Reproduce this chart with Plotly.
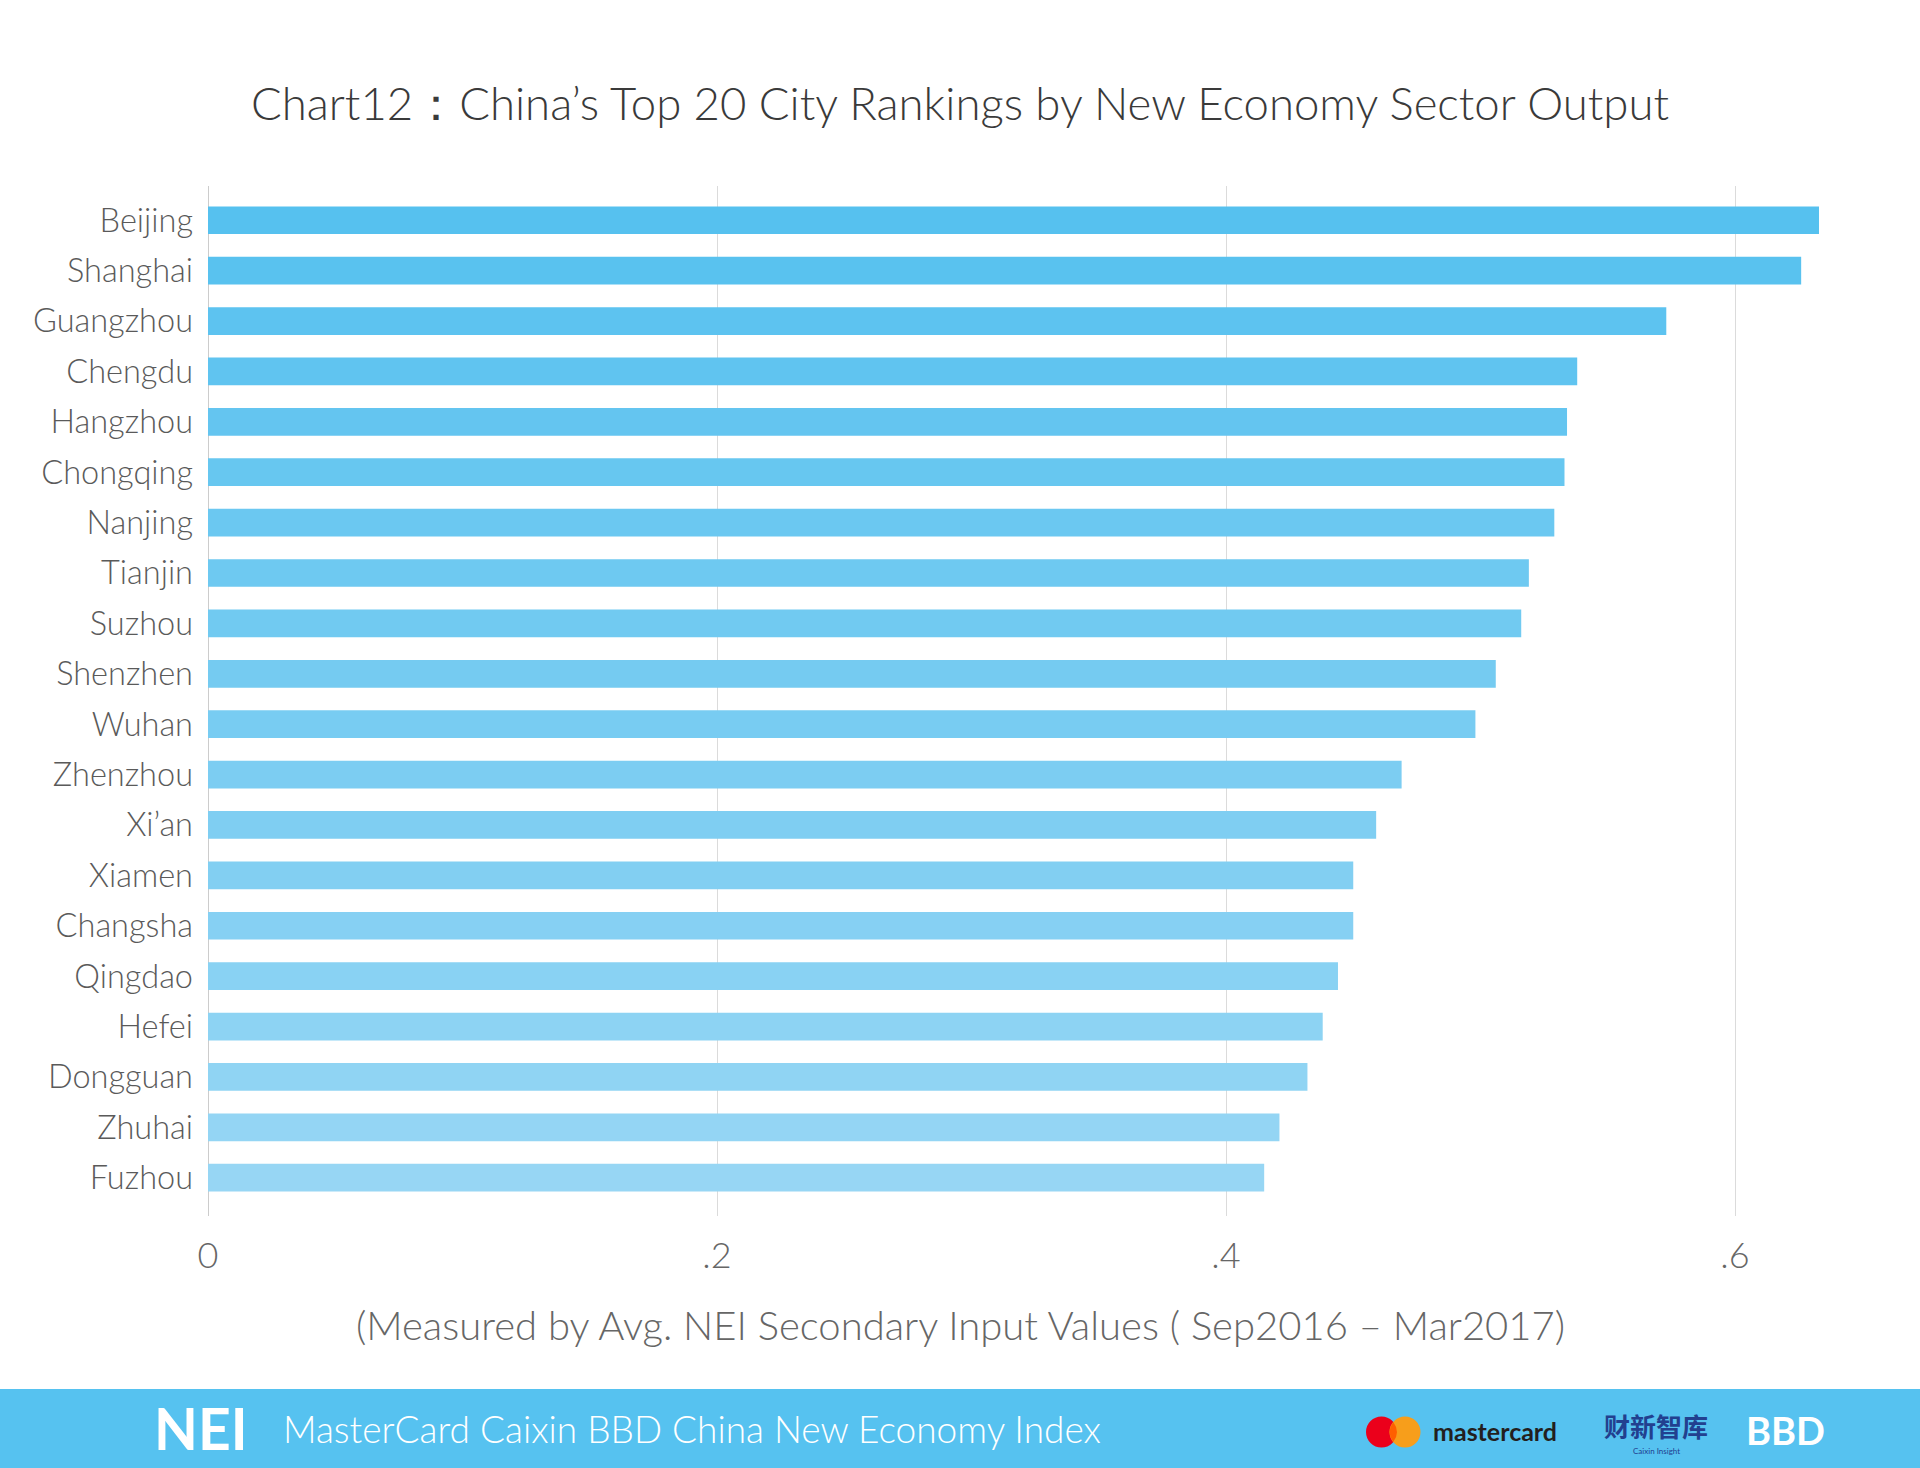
import plotly.graph_objects as go
import numpy as np

# ---- data ----
cities = ["Beijing", "Shanghai", "Guangzhou", "Chengdu", "Hangzhou", "Chongqing",
          "Nanjing", "Tianjin", "Suzhou", "Shenzhen", "Wuhan", "Zhenzhou",
          "Xi’an", "Xiamen", "Changsha", "Qingdao", "Hefei", "Dongguan",
          "Zhuhai", "Fuzhou"]
values = [0.633, 0.626, 0.573, 0.538, 0.534, 0.533, 0.529, 0.519, 0.516, 0.506,
          0.498, 0.469, 0.459, 0.450, 0.450, 0.444, 0.438, 0.432, 0.421, 0.415]
tick_vals = [0, 0.2, 0.4, 0.6]
tick_text = ["0", ".2", ".4", ".6"]

title_text = "Chart12：China’s Top 20 City Rankings by New Economy Sector Output"
axis_title = "(Measured by Avg. NEI Secondary Input Values ( Sep2016 – Mar2017)"
footer_text = "MasterCard Caixin BBD China New Economy Index"

# ---- geometry (pixels) ----
W, H = 1920, 1468
L, R, T, B = 208, 60, 186, 252
PW, PH = W - L - R, H - T - B
XMAX = PW / 2545.0


def xp(px):
    return (px - L) / PW


def yp(py):
    return (H - B - py) / PH


CJK = "Noto Sans CJK SC"

# bar colour gradient (top darker -> bottom lighter)
c0 = np.array([86, 193, 239])
c1 = np.array([151, 214, 244])
n = len(cities)
colors = ["rgb(%d,%d,%d)" % tuple(np.round(c0 + (c1 - c0) * i / (n - 1)).astype(int))
          for i in range(n)]

FONT = "Lato"

fig = go.Figure()
fig.add_trace(go.Bar(
    x=values, y=cities, orientation="h",
    marker=dict(color=colors, line=dict(width=0)),
    showlegend=False, hoverinfo="x+y",
))

fig.update_layout(
    width=W, height=H,
    margin=dict(l=L, r=R, t=T, b=B, pad=0),
    paper_bgcolor="white", plot_bgcolor="white",
    bargap=0.45,
    title=dict(text=title_text, x=0.5, xanchor="center", y=1 - 104 / H,
               yanchor="middle",
               font=dict(family=FONT, size=45.5, color="#3a3a3a", weight=300)),
    xaxis=dict(range=[0, XMAX], tickvals=tick_vals, ticktext=tick_text,
               showgrid=True, gridcolor="rgba(170,170,170,0.42)", gridwidth=1,
               zeroline=True, zerolinecolor="rgba(170,170,170,0.6)", zerolinewidth=1,
               showline=False, ticks="", ticklabelstandoff=15,
               tickfont=dict(family=FONT, size=36, color="#666666", weight=300),
               layer="above traces", fixedrange=True),
    yaxis=dict(autorange=False, range=[n - 1 + 0.76, -0.68], type="category",
               showgrid=False, zeroline=False, showline=False, ticks="",
               ticklabelstandoff=14,
               tickfont=dict(family=FONT, size=32.5, color="#5a5a5a", weight=300),
               fixedrange=True),
)

# axis title
fig.add_annotation(text=axis_title, xref="paper", yref="paper",
                   x=xp(960), y=yp(1325), xanchor="center", yanchor="middle",
                   showarrow=False,
                   font=dict(family=FONT, size=40, color="#666666", weight=300))

# ---- footer band ----
fig.add_shape(type="rect", xref="paper", yref="paper",
              x0=xp(-2), x1=xp(W + 2), y0=yp(1389), y1=yp(H + 2),
              fillcolor="#56C2F0", line=dict(width=0), layer="above")

fig.add_annotation(text="<b>NEI</b>", xref="paper", yref="paper",
                   x=xp(152), y=yp(1428), xanchor="left", yanchor="middle",
                   showarrow=False,
                   font=dict(family=FONT, size=57, color="white", weight=900))
fig.add_annotation(text=footer_text, xref="paper", yref="paper",
                   x=xp(281), y=yp(1428), xanchor="left", yanchor="middle",
                   showarrow=False,
                   font=dict(family=FONT, size=37, color="white", weight=300))

# mastercard circles
r = 15.5
cxr, cxo, cy = 1381.5, 1405.0, 1432.0
fig.add_shape(type="circle", xref="paper", yref="paper",
              x0=xp(cxr - r), x1=xp(cxr + r), y0=yp(cy + r), y1=yp(cy - r),
              fillcolor="#EB001B", line=dict(width=0), layer="above")
fig.add_shape(type="circle", xref="paper", yref="paper",
              x0=xp(cxo - r), x1=xp(cxo + r), y0=yp(cy + r), y1=yp(cy - r),
              fillcolor="#F79E1B", line=dict(width=0), layer="above")
# overlap lens
mx = (cxr + cxo) / 2
hh = (r ** 2 - ((cxo - cxr) / 2) ** 2) ** 0.5
bulge_r = (cxr + r) - mx
bulge_o = mx - (cxo - r)
lens = "M %f,%f Q %f,%f %f,%f Q %f,%f %f,%f Z" % (
    xp(mx), yp(cy - hh),
    xp(mx + 2 * bulge_r), yp(cy), xp(mx), yp(cy + hh),
    xp(mx - 2 * bulge_o), yp(cy), xp(mx), yp(cy - hh))
fig.add_shape(type="path", xref="paper", yref="paper", path=lens,
              fillcolor="#FF5F00", line=dict(width=0), layer="above")
fig.add_annotation(text="<b>mastercard</b>", xref="paper", yref="paper",
                   x=xp(1431), y=yp(1431), xanchor="left", yanchor="middle",
                   showarrow=False,
                   font=dict(family=FONT, size=25, color="#231F20", weight=700))
fig.add_annotation(text="<b>财新智库</b>", xref="paper", yref="paper",
                   x=xp(1656), y=yp(1425), xanchor="center", yanchor="middle",
                   showarrow=False,
                   font=dict(family=CJK, size=26, color="#22408F"))
fig.add_annotation(text="Caixin Insight", xref="paper", yref="paper",
                   x=xp(1656), y=yp(1451), xanchor="center", yanchor="middle",
                   showarrow=False,
                   font=dict(family=FONT, size=8, color="#22408F"))
fig.add_annotation(text="<b>BBD</b>", xref="paper", yref="paper",
                   x=xp(1785), y=yp(1430), xanchor="center", yanchor="middle",
                   showarrow=False,
                   font=dict(family=FONT, size=38, color="white", weight=900))

fig.write_html("out.html",
               config={"displayModeBar": False},
               post_script="document.body.style.margin='0';"
                           "document.body.style.padding='0';"
                           "document.documentElement.style.overflow='hidden';")
